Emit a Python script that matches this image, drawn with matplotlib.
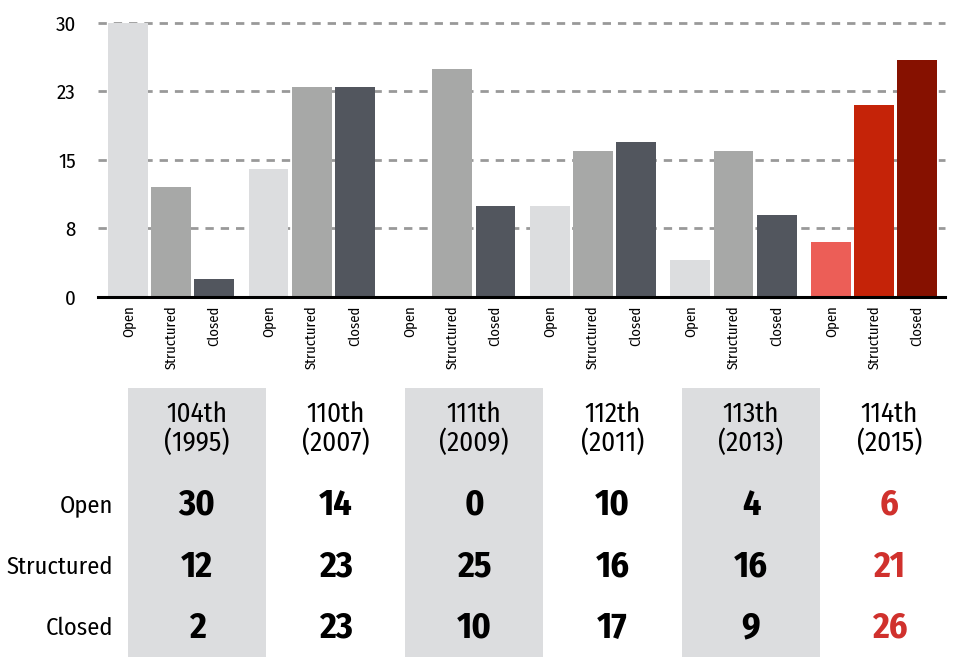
import numpy as np
import matplotlib.pyplot as plt
from matplotlib.patches import Rectangle

plt.rcParams['font.family'] = ['Fira Sans Condensed', 'DejaVu Sans']

congresses = ["104th", "110th", "111th", "112th", "113th", "114th"]
years = ["1995", "2007", "2009", "2011", "2013", "2015"]
rule_types = ["Open", "Structured", "Closed"]
open_rules = [30, 14, 0, 10, 4, 6]
structured_rules = [12, 23, 25, 16, 16, 21]
closed_rules = [2, 23, 10, 17, 9, 26]

grey_cols = ["#dcdddf", "#a7a8a7", "#52565e"]
red_cols = ["#ec5e57", "#c52308", "#861100"]

fig = plt.figure(figsize=[9.55, 6.57], dpi=100)
ax = fig.add_axes([0.1026, 0.548, 0.887, 0.417])

series = [open_rules, structured_rules, closed_rules]
gap = 3.25
xs, labels = [], []
for i in range(len(congresses)):
    cols = red_cols if i == len(congresses) - 1 else grey_cols
    for j in range(3):
        x = i * gap + j
        ax.bar(x, series[j][i], width=0.92, color=cols[j], zorder=2)
        xs.append(x)
        labels.append(rule_types[j])

ax.set_xlim(-0.69, (len(congresses) - 1) * gap + 2.64)
ax.set_ylim(0, 30)
ax.set_yticks([0, 7.5, 15, 22.5, 30])
ax.set_yticklabels(["0", "8", "15", "23", "30"], fontsize=15)
ax.set_xticks(xs)
ax.set_xticklabels(labels, rotation=90, fontsize=10.5)
ax.tick_params(length=0, pad=6)
ax.tick_params(axis='y', pad=16)
for yv in [7.5, 15, 22.5, 30]:
    ax.axhline(yv, color="#999999", lw=2, ls=(0, (3, 2.5)), zorder=1, clip_on=False)
for s in ["top", "right", "left"]:
    ax.spines[s].set_visible(False)
ax.spines["bottom"].set_linewidth(2.2)
ax.spines["bottom"].set_zorder(3)

# table below the chart, in pixel coordinates
tab = fig.add_axes([0, 0, 1, 1], zorder=-1)
tab.set_xlim(0, 955)
tab.set_ylim(657, 0)
tab.axis("off")
col0, step, colw = 197, 138.5, 138
row_y = [505, 567, 628]
for i, (c, yr) in enumerate(zip(congresses, years)):
    cx = col0 + i * step
    if i % 2 == 0:
        tab.add_patch(Rectangle((cx - colw / 2, 388), colw, 269, color="#dcdddf", lw=0))
    tab.text(cx, 429, c + "\n(" + yr + ")", ha="center", va="center", fontsize=19.5, linespacing=1.05)
    color = "#d0312d" if i == len(congresses) - 1 else "black"
    for r, vals in enumerate(series):
        tab.text(cx, row_y[r], str(vals[i]), ha="center", va="center", fontsize=26,
                 fontweight="bold", color=color)
for r, name in enumerate(rule_types):
    tab.text(113, row_y[r], name, ha="right", va="center", fontsize=17.5)

fig.savefig("out.png", dpi=100)
